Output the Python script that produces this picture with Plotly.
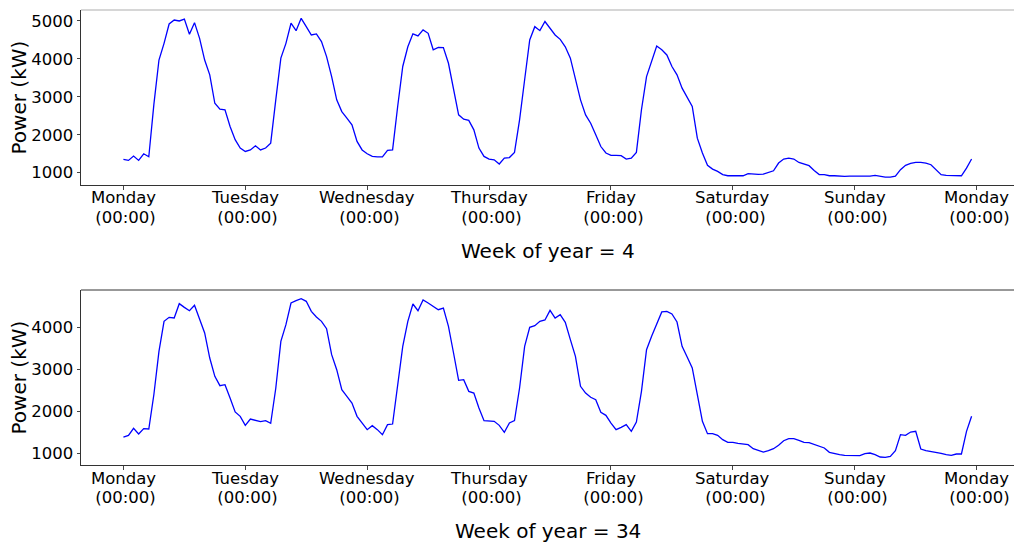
import plotly.graph_objects as go
from plotly.subplots import make_subplots

# Hourly load for two sample weeks (hour 0 = Monday 00:00)
hours = list(range(168))

power_week4 = [
    1350, 1325, 1440, 1325, 1500, 1420, 2800, 3970, 4410, 4920, 5025, 5000,
    5050, 4650, 4955, 4540, 3970, 3580, 2830, 2675, 2660, 2220, 1870, 1650,
    1560, 1600, 1710, 1600, 1650, 1780, 2920, 4020, 4410, 4940, 4745, 5070,
    4850, 4630, 4660, 4455, 4060, 3535, 2920, 2610, 2440, 2260, 1825, 1600,
    1500, 1430, 1420, 1420, 1590, 1600, 2745, 3800, 4320, 4660, 4605, 4765,
    4675, 4240, 4305, 4300, 3885, 3185, 2525, 2410, 2380, 2130, 1650, 1430,
    1360, 1340, 1230, 1385, 1400, 1535, 2395, 3450, 4500, 4850, 4745, 4985,
    4805, 4630, 4515, 4320, 4020, 3450, 2920, 2525, 2305, 2000, 1690, 1520,
    1455, 1455, 1450, 1360, 1385, 1535, 2660, 3535, 3970, 4340, 4240, 4105,
    3800, 3580, 3230, 3000, 2745, 1910, 1520, 1195, 1095, 1035, 950, 920,
    920, 930, 920, 975, 965, 955, 965, 1010, 1050, 1255, 1360, 1385,
    1360, 1270, 1235, 1185, 1060, 950, 950, 920, 920, 910, 905, 910,
    910, 905, 905, 910, 930, 905, 885, 885, 910, 1080, 1195, 1245,
    1270, 1270, 1255, 1210, 1080, 950, 930, 930, 920, 920, 1120, 1360,
]

power_week34 = [
    1383, 1423, 1590, 1455, 1583, 1575, 2400, 3434, 4152, 4248, 4232, 4575,
    4487, 4407, 4535, 4192, 3873, 3274, 2835, 2612, 2636, 2317, 1982, 1878,
    1662, 1814, 1782, 1750, 1774, 1710, 2550, 3673, 4072, 4591, 4647, 4695,
    4631, 4392, 4256, 4152, 3976, 3354, 2995, 2516, 2357, 2197, 1878, 1718,
    1559, 1654, 1559, 1439, 1678, 1694, 2636, 3550, 4152, 4567, 4407, 4663,
    4591, 4511, 4431, 4471, 4032, 3394, 2740, 2756, 2476, 2436, 2077, 1774,
    1774, 1758, 1662, 1495, 1718, 1774, 2556, 3554, 4008, 4048, 4152, 4184,
    4415, 4232, 4312, 4128, 3713, 3314, 2596, 2436, 2333, 2277, 1974, 1902,
    1718, 1559, 1614, 1678, 1519, 1742, 2476, 3474, 3793, 4072, 4376, 4392,
    4328, 4136, 3554, 3300, 3035, 2397, 1758, 1463, 1463, 1423, 1319, 1255,
    1255, 1231, 1215, 1200, 1104, 1056, 1024, 1056, 1104, 1184, 1295, 1343,
    1343, 1303, 1255, 1247, 1200, 1152, 1120, 1016, 984, 960, 944, 936,
    936, 936, 984, 1000, 960, 904, 896, 920, 1056, 1439, 1423, 1503,
    1519, 1096, 1056, 1040, 1016, 992, 960, 944, 976, 976, 1519, 1878,
]

day_ticks = [0, 24, 48, 72, 96, 120, 144, 168]
day_names = ["Monday", "Tuesday", "Wednesday", "Thursday", "Friday",
             "Saturday", "Sunday", "Monday"]
time_label = "\u00a0(00:00)"

y_ticks_week4 = [1000, 2000, 3000, 4000, 5000]
y_ticks_week34 = [1000, 2000, 3000, 4000]

W, H = 1014, 542
FONT = "DejaVu Sans"

fig = make_subplots(rows=2, cols=1)

for row, values in ((1, power_week4), (2, power_week34)):
    fig.add_trace(
        go.Scatter(x=hours, y=values, mode="lines",
                   line=dict(color="#0000ff", width=1.3),
                   showlegend=False, hoverinfo="skip"),
        row=row, col=1,
    )

x_dom = [81 / W, 1.0]
top_dom = [(H - 185) / H, (H - 10) / H]
bot_dom = [(H - 465) / H, (H - 290) / H]

common_x = dict(
    range=[-8.35, 175.35], tickmode="array", tickvals=day_ticks,
    showticklabels=False, ticks="outside", ticklen=3.5, tickwidth=0.8,
    tickcolor="#444", showgrid=False, zeroline=False, showline=True,
    linecolor="#333", linewidth=1, automargin=False, domain=x_dom,
)
common_y = dict(
    tickmode="array", ticks="outside", ticklen=3.5, tickwidth=0.8,
    tickcolor="#444", showgrid=False, zeroline=False, showline=True,
    linecolor="#333", linewidth=1, tickfont=dict(family=FONT, size=16.5, color="#000"),
    automargin=False,
)

fig.update_layout(
    width=W, height=H,
    margin=dict(l=0, r=0, t=0, b=0),
    paper_bgcolor="white", plot_bgcolor="white",
    xaxis=dict(**common_x),
    xaxis2=dict(**common_x),
    yaxis=dict(**common_y, range=[676, 5289], tickvals=y_ticks_week4,
               domain=top_dom),
    yaxis2=dict(**common_y, range=[713, 4902], tickvals=y_ticks_week34,
                domain=bot_dom),
)

# Top frame edges
fig.add_shape(type="line", xref="paper", yref="paper",
              x0=x_dom[0], x1=1.0, y0=top_dom[1], y1=top_dom[1],
              line=dict(color="#c8c8c8", width=1.5))
fig.add_shape(type="line", xref="paper", yref="paper",
              x0=x_dom[0], x1=1.0, y0=bot_dom[1], y1=bot_dom[1],
              line=dict(color="#333", width=1))

# Two-line day labels under each x axis
for xref, axis_bottom in (("x", 185), ("x2", 465)):
    for tv, name in zip(day_ticks, day_names):
        for text, dy in ((name, 13), (time_label, 32.5)):
            fig.add_annotation(text=text, xref=xref, yref="paper",
                               x=tv, y=1 - (axis_bottom + dy) / H,
                               showarrow=False, xanchor="center",
                               yanchor="middle",
                               font=dict(family=FONT, size=16.5, color="#000"))

# Axis titles
for yc in (97.5, 377.5):
    fig.add_annotation(text="Power (kW)", xref="paper", yref="paper",
                       x=18 / W, y=1 - yc / H, textangle=-90, showarrow=False,
                       xanchor="center", yanchor="middle",
                       font=dict(family=FONT, size=20, color="#000"))

for label, yc in (("Week of year = 4", 251), ("Week of year = 34", 531)):
    fig.add_annotation(text=label, xref="paper", yref="paper",
                       x=548 / W, y=1 - yc / H, showarrow=False,
                       xanchor="center", yanchor="middle",
                       font=dict(family=FONT, size=20, color="#000"))

fig.write_html("out.html")
